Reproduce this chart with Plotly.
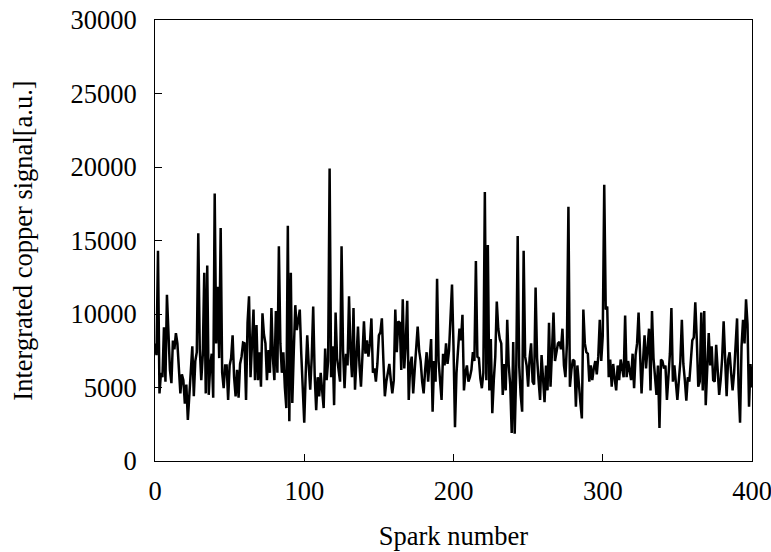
import plotly.graph_objects as go

spark = list(range(0, 401))

signal = [
    8000, 7200, 14300, 4600, 6000, 5700, 9100, 5400, 11300, 8000,
    6200, 5300, 8200, 7600, 8700, 8000, 6200, 4600, 5900, 5500,
    3900, 5200, 2800, 4700, 6500, 7800, 4400, 6800, 7400, 15500,
    7600, 5500, 7200, 12800, 4600, 13300, 4500, 6500, 7300, 4300,
    18200, 8000, 11850, 7000, 15850, 6000, 4950, 6500, 6500, 4150,
    6500, 7000, 8550, 5700, 4400, 6200, 4300, 6600, 7100, 8050,
    8000, 4150, 9400, 11200, 5700, 8000, 10300, 5500, 9250, 5500,
    7400, 5050, 10050, 8600, 8000, 5500, 7550, 6000, 10400, 7000,
    5500, 10200, 6000, 14600, 8000, 6000, 7400, 5000, 3600, 16000,
    2700, 12800, 3950, 7500, 10600, 8900, 9500, 10300, 7300, 5000,
    2600, 6000, 8550, 6500, 4850, 7000, 10500, 5800, 3450, 5700,
    4400, 6000, 5000, 3600, 7650, 5500, 6800, 19900, 5700, 7800,
    3800, 10100, 7000, 6200, 5400, 14600, 7500, 4950, 7300, 6500,
    11200, 7400, 5700, 10400, 4850, 7000, 9150, 6500, 5050, 7200,
    9500, 7300, 8200, 7100, 8000, 9700, 6000, 6300, 5400, 6600,
    8550, 8750, 9700, 6900, 4400, 5400, 6000, 6600, 5500, 4600,
    5500, 10300, 7400, 9500, 9400, 6200, 11000, 6300, 8000, 10900,
    4150, 6500, 7100, 4600, 6200, 7800, 9150, 7500, 6800, 5400,
    4600, 6200, 7400, 5400, 7000, 8300, 3350, 6800, 5400, 12400,
    6800, 5500, 4150, 7300, 6500, 8000, 6600, 7500, 9600, 12000,
    7800, 2300, 6000, 7500, 9000, 8200, 9950, 4800, 6000, 6500,
    5400, 5700, 6200, 7400, 6800, 13600, 7100, 7000, 5600, 4950,
    6000, 18300, 5500, 14700, 4800, 8300, 3250, 5500, 7100, 10850,
    9000, 8300, 8000, 4500, 6600, 4800, 9600, 6500, 5200, 1900,
    8100, 1850, 6000, 15300, 6500, 4500, 3350, 14300, 7100, 6500,
    5050, 7000, 8000, 5400, 5200, 11800, 7000, 5500, 4150, 7200,
    5200, 4000, 6500, 4800, 9400, 5050, 7500, 10100, 6800, 7300,
    8000, 8100, 7600, 9000, 6500, 5700, 8000, 17300, 5050, 6200,
    6900, 6800, 3700, 6500, 5050, 4000, 2900, 10300, 8000, 7400,
    7300, 5400, 6500, 5500, 6300, 6800, 5900, 7100, 9600, 6800,
    8500, 18800, 10300, 10500, 5700, 6900, 5050, 6600, 5600, 4800,
    6500, 5500, 6900, 6200, 5700, 9900, 5700, 6800, 6200, 5500,
    7300, 4950, 7200, 8000, 10100, 6500, 4600, 6800, 8550, 6300,
    7400, 9000, 4800, 10200, 7000, 5400, 4500, 6500, 2250, 6900,
    6800, 6300, 6500, 4150, 5800, 7300, 10400, 5400, 6500, 5200,
    4150, 5500, 6800, 9600, 6600, 5500, 4100, 5700, 5400, 6800,
    8200, 8400, 10800, 8300, 5050, 5400, 10100, 4800, 10200, 3800,
    6500, 8700, 6500, 7800, 5500, 5400, 7900, 6000, 4500, 5500,
    7000, 9500, 6500, 4400, 6900, 7400, 6000, 4800, 6000, 7500,
    9700, 5000, 2600, 7800, 9600, 8000, 11000, 9300, 3700, 6600,
    5000,
]

x_ticks = [0, 100, 200, 300, 400]
y_ticks = [0, 5000, 10000, 15000, 20000, 25000, 30000]

FONT = "Liberation Serif, Times New Roman, serif"
FS = 26.5

fig = go.Figure()
fig.add_trace(go.Scatter(
    x=spark, y=signal, mode="lines",
    line=dict(color="black", width=2.5),
    showlegend=False,
))

fig.update_layout(
    width=771, height=552,
    margin=dict(l=155, r=19, t=20, b=91),
    paper_bgcolor="white", plot_bgcolor="white",
    font=dict(family=FONT, size=FS, color="black"),
)
fig.update_xaxes(
    range=[0, 400], tickvals=x_ticks, ticktext=[str(v) for v in x_ticks],
    showgrid=False, zeroline=False, automargin=False,
    ticklabeloverflow="allow",
    showline=True, linecolor="black", linewidth=1, mirror=True,
    ticks="inside", ticklen=7, tickcolor="black",
    tickfont=dict(family=FONT, size=FS),
    ticklabelstandoff=6,
    title=dict(text="Spark number", font=dict(family=FONT, size=FS), standoff=21),
)
fig.update_yaxes(
    range=[0, 30000], tickvals=y_ticks, ticktext=[str(v) for v in y_ticks],
    showgrid=False, zeroline=False, automargin=False,
    ticklabeloverflow="allow",
    showline=True, linecolor="black", linewidth=1, mirror=True,
    ticks="inside", ticklen=7, tickcolor="black",
    tickfont=dict(family=FONT, size=FS),
    ticklabelstandoff=12,
    title=dict(text="Intergrated copper signal[a.u.]", font=dict(family=FONT, size=FS), standoff=30),
)

fig.write_html(
    "out.html",
    config={"displayModeBar": False},
    post_script="document.body.style.margin='0';",
)
